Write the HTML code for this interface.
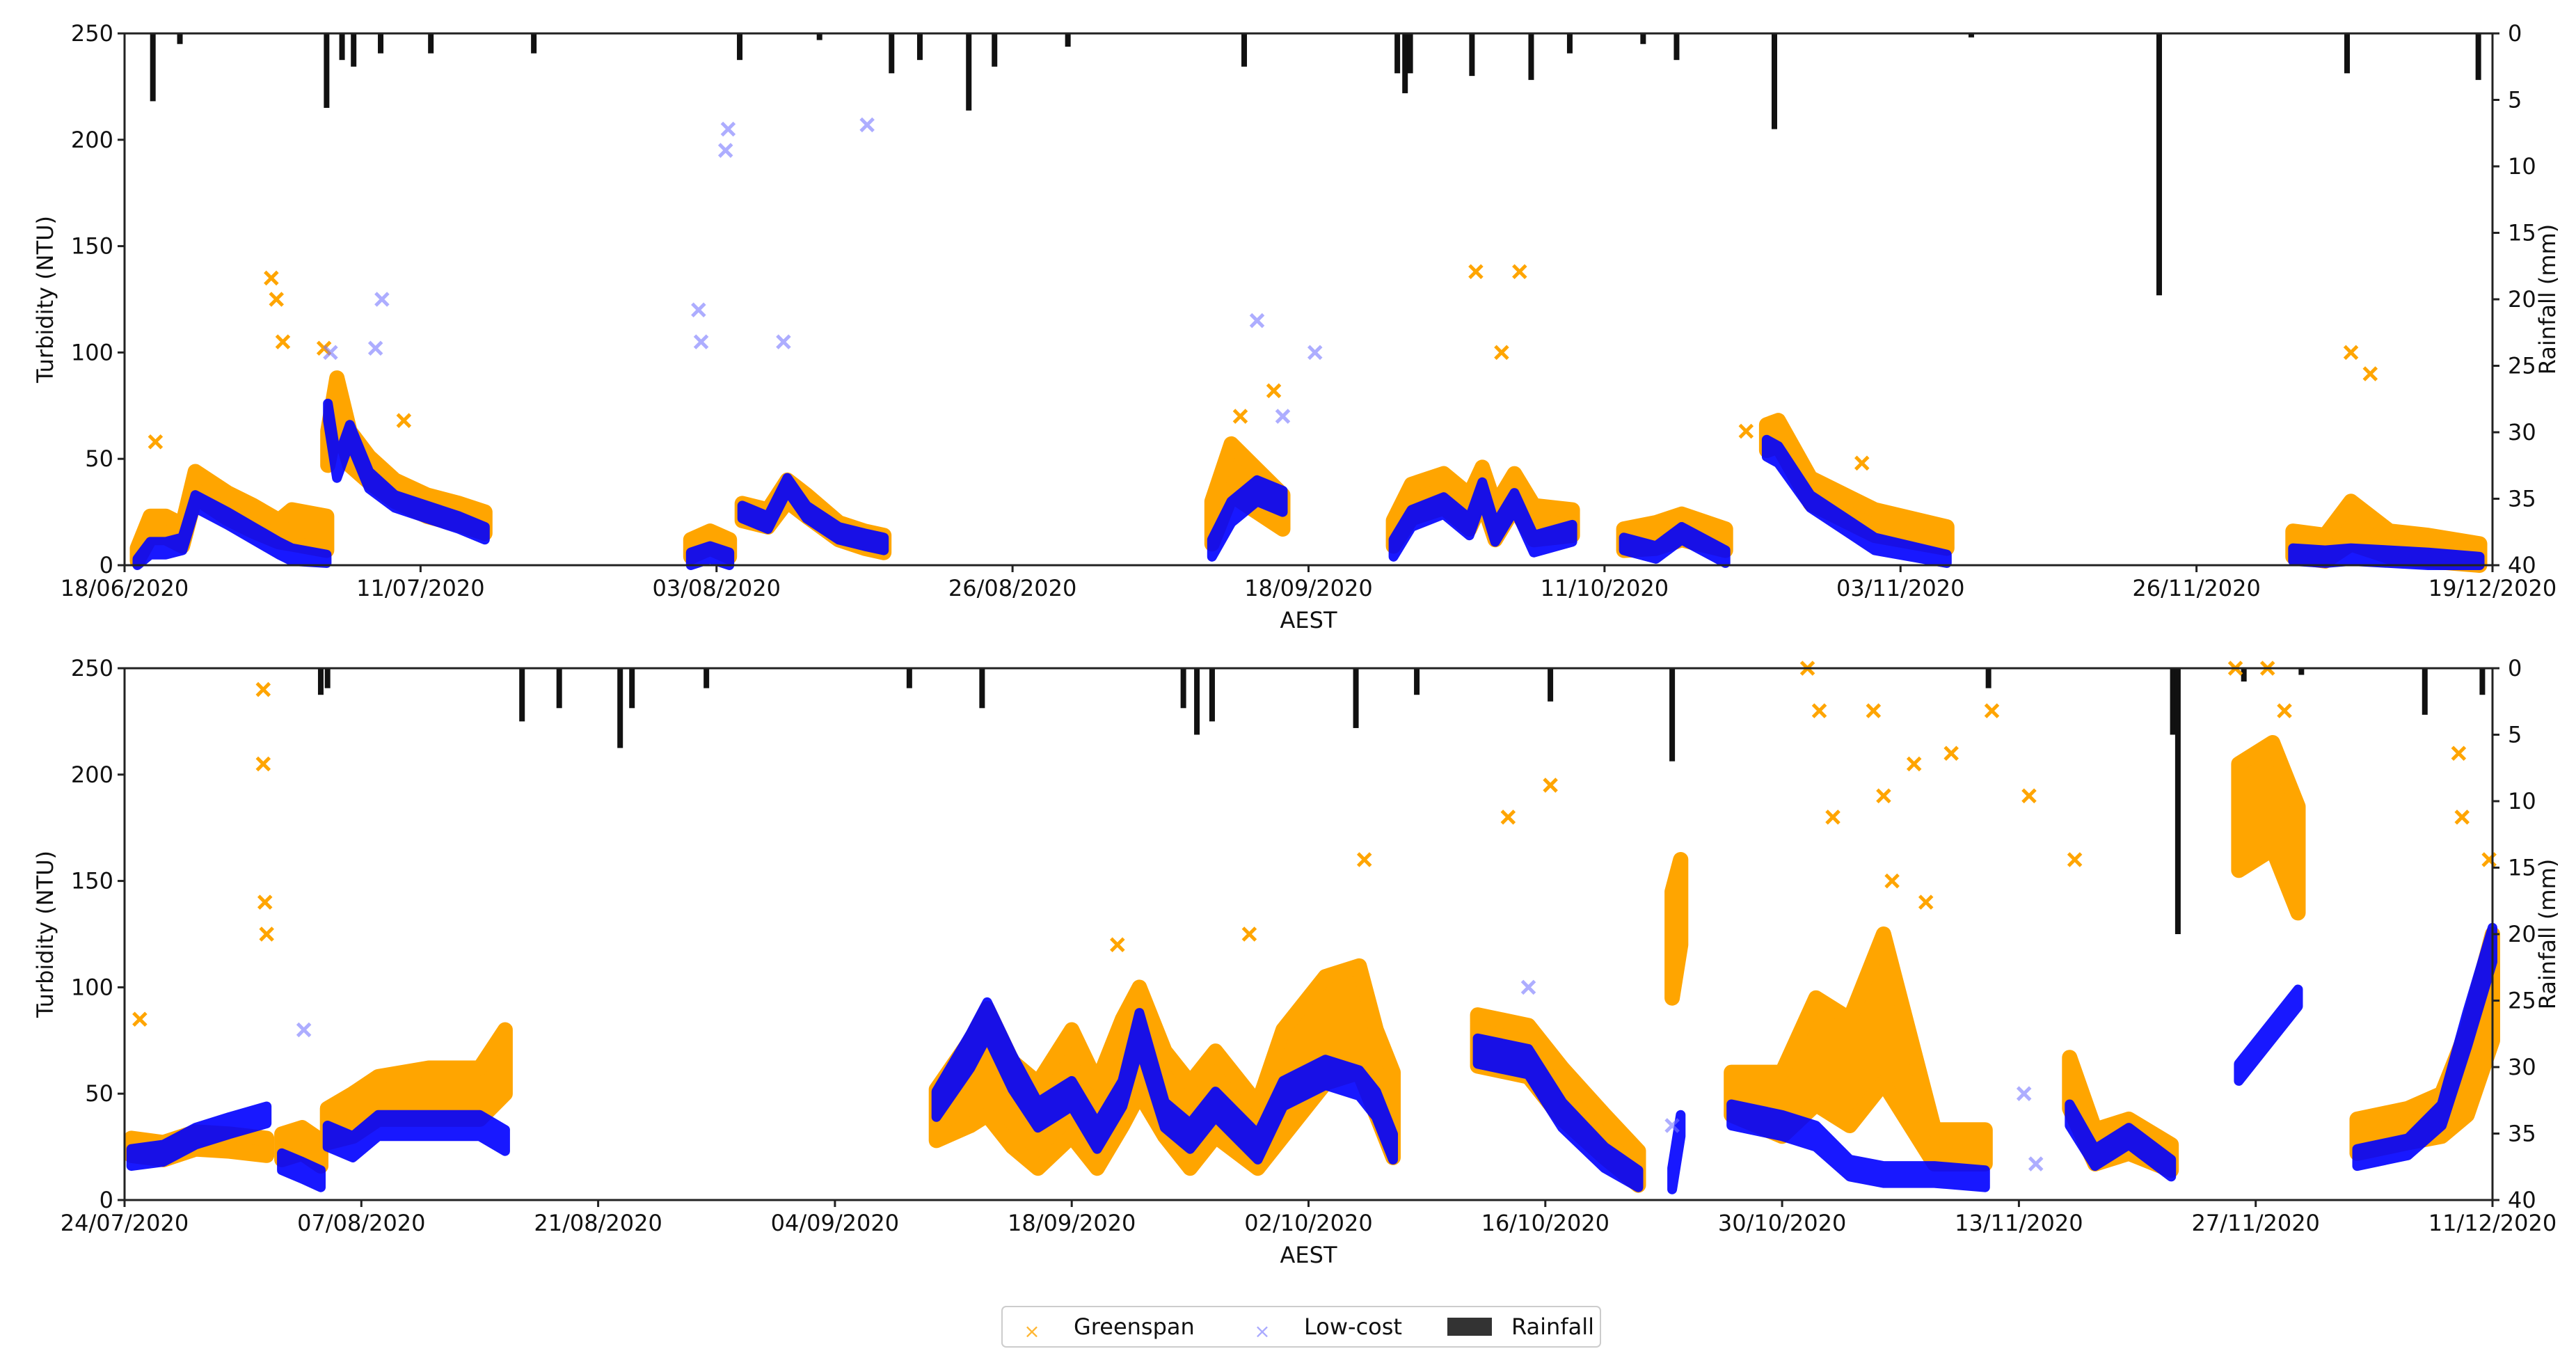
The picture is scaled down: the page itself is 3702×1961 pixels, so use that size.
<!DOCTYPE html>
<html><head><meta charset="utf-8"><style>
html,body{margin:0;padding:0;background:#fff;}
svg{display:block;font-family:"DejaVu Sans","Liberation Sans",sans-serif;}
</style></head><body>
<svg id="chart" width="3702" height="1961" viewBox="0 0 3702 1961" xmlns="http://www.w3.org/2000/svg">
<rect x="0" y="0" width="3702" height="1961" fill="#fff"/>
<g>
<rect x="1440" y="1877" width="860" height="58" rx="6" fill="#fff" stroke="#ccc" stroke-width="2"/>
<text x="1483" y="1922" font-size="28" fill="#ffa500" text-anchor="middle" opacity="0.8">×</text>
<text x="1543" y="1917" font-size="32" fill="#111">Greenspan</text>
<text x="1814" y="1922" font-size="28" fill="#aaaaff" text-anchor="middle">×</text>
<text x="1874" y="1917" font-size="32" fill="#111">Low-cost</text>
<rect x="2080" y="1893" width="64" height="26" fill="#333"/>
<text x="2172" y="1917" font-size="32" fill="#111">Rainfall</text>
</g>
</svg>
<script>
// ---- Top panel data (day offset from 18/06/2020) ----
const topDays = [1,2,3.2,4.5,5.5,8,10,12,13,15.7,null,15.8,16.5,17.5,19,21,23.5,26,28,null,44,45.5,47,null,48,50,51.5,53,55.5,57.5,59,null,84.5,86,88,90,null,98.6,100,102.5,104.5,105.5,106.5,108,109.5,112.5,null,116.5,119,121,124.4,null,127.6,128.5,131,136,141.6,null,168.5,171,173,176,179,183];
const topGreenspan = [5,18,18,14,38,28,22,16,18,15,null,55,78,55,45,35,28,24,20,null,8,12,8,null,25,22,35,28,16,12,10,null,20,45,35,25,null,15,30,35,25,38,20,35,20,20,null,12,14,18,12,null,60,62,35,20,13,null,10,8,20,10,8,5];
const topGSpread = [3,5,5,5,6,6,6,5,8,8,null,8,10,8,6,5,5,5,5,null,4,4,4,null,4,4,5,5,4,4,4,null,10,12,10,8,null,6,8,8,8,8,8,8,8,6,null,5,6,6,5,null,6,6,6,6,5,null,6,6,10,6,6,5];
const topLowcost = [1,8,8,10,30,22,15,8,5,3,null,72,45,62,40,30,25,20,15,null,3,6,3,null,25,20,38,25,15,12,10,null,8,25,35,30,null,8,22,28,18,35,15,30,10,15,null,10,6,15,4,null,55,52,30,10,3,null,5,4,5,4,3,2];
const topLSpread = [2,3,3,3,3,3,3,3,3,2,null,4,4,4,4,3,3,3,3,null,3,3,3,null,3,3,3,3,3,3,3,null,4,5,5,5,null,4,4,4,4,4,4,4,4,4,null,3,3,3,3,null,4,4,3,3,2,null,3,3,3,3,3,2];
const topGOutDays = [2.4,11.4,11.8,12.3,15.5,21.7,86.7,89.3,105,108.4,107,173,174.5,126,135];
const topGOutVals = [58,135,125,105,102,68,70,82,138,138,100,100,90,63,48];
const topLOutDays = [16,20,19.5,44.6,44.8,46.9,46.7,51.2,57.7,88,92.5,90];
const topLOutVals = [100,125,102,120,105,205,195,105,207,115,100,70];
const topRainDays = [2.2,4.3,15.7,16.9,17.8,19.9,23.8,31.8,47.8,54,59.6,61.8,65.6,67.6,73.3,87,98.9,99.5,99.9,104.7,109.3,112.3,118,120.6,128.2,143.5,158.1,172.7,182.9];
const topRainMm = [5.1,0.8,5.6,2,2.5,1.5,1.5,1.5,2,0.5,3,2,5.8,2.5,1,2.5,3,4.5,3,3.2,3.5,1.5,0.8,2,7.2,0.3,19.7,3,3.5];
const topTickLabels = ["18/06/2020","11/07/2020","03/08/2020","26/08/2020","18/09/2020","11/10/2020","03/11/2020","26/11/2020","19/12/2020"];
const topTickDays = [0,23,46,69,92,115,138,161,184];
// ---- Bottom panel data (day offset from 24/07/2020) ----
const botDays = [0.4,2.3,4.2,6.2,8.4,null,9.3,10.5,11.6,null,12,13.5,15,18,21,22.5,null,48,50,51,52.5,54,56,57.5,59,60,61.5,63,64.5,67,68.5,71,73,74,75,null,80,83,85,87.5,89.5,null,91.5,92,null,95,98,100,102,104,107,110,null,115,116.5,118.5,121,null,125,127,128.5,null,132,135,137,138.5,140];
const botGreenspan = [25,23,28,27,25,null,25,28,22,null,35,40,48,50,50,65,null,40,55,65,45,35,55,35,60,75,50,35,50,30,55,80,85,60,40,null,75,70,50,30,15,null,120,140,null,50,45,70,60,90,25,25,null,55,25,30,20,null,180,190,160,null,30,35,40,60,100];
const botGSpread = [4,4,4,4,4,null,6,6,6,null,8,10,10,12,12,15,null,12,20,25,20,20,25,20,25,25,20,20,20,15,25,25,25,20,20,null,12,12,12,10,8,null,25,20,null,10,15,25,25,35,8,8,null,12,8,8,6,null,25,25,25,null,8,8,10,20,25];
const botLowcost = [20,22,30,35,40,null,18,14,10,null,30,25,35,35,35,28,null,45,70,85,60,40,50,30,50,80,40,30,45,25,50,60,55,45,25,null,70,65,40,20,10,null,10,35,null,40,35,30,15,12,12,10,null,40,20,30,15,null,60,80,95,null,20,25,40,80,120];
const botLSpread = [4,4,4,4,4,null,4,4,4,null,5,5,5,5,5,5,null,6,8,8,8,6,6,6,6,8,6,6,6,6,6,6,6,6,6,null,6,6,6,5,4,null,5,5,null,5,5,5,4,4,4,4,null,5,4,4,4,null,4,4,4,null,4,4,5,8,8];
const botGOutDays = [8.2,8.2,8.3,8.4,99.5,100.2,103.4,104,104.5,105.8,108,110.4,112.6,115.3,124.8,125.3,126.7,127.7,138,138.2,139.8,84.3,81.8,66.5,73.3,0.9,58.7,101,106.5];
const botGOutVals = [240,205,140,125,250,230,230,190,150,205,210,230,190,160,250,200,250,230,210,180,160,195,180,125,160,85,120,180,140];
const botLOutDays = [10.6,91.5,112.3,113,83];
const botLOutVals = [80,35,50,17,100];
const botRainDays = [11.6,12,23.5,25.7,29.3,30,34.4,46.4,50.7,62.6,63.4,64.3,72.8,76.4,84.3,91.5,110.2,121.1,121.4,125.3,128.7,136,139.4];
const botRainMm = [2,1.5,4,3,6,3,1.5,1.5,3,3,5,4,4.5,2,2.5,7,1.5,5,20,1,0.5,3.5,2];
const botTickLabels = ["24/07/2020","07/08/2020","21/08/2020","04/09/2020","18/09/2020","02/10/2020","16/10/2020","30/10/2020","13/11/2020","27/11/2020","11/12/2020"];
const botTickDays = [0,14,28,42,56,70,84,98,112,126,140];
const yTicks = [0,50,100,150,200,250];
const rainTicks = [0,5,10,15,20,25,30,35,40];

const NS = "http://www.w3.org/2000/svg";
const svg = document.getElementById('chart');
const legend = svg.lastElementChild;
function mk(tag, attrs, parent){const e=document.createElementNS(NS,tag);for(const k in attrs)e.setAttribute(k,attrs[k]);(parent||svg).insertBefore(e, parent?null:legend);return e;}

function drawPanel(p){
  const L=179,R=3582,T=p.top,B=p.bottom;
  const xs=d=>L+(R-L)*d/p.span;
  const ys=v=>Math.min(B,Math.max(T,B-(B-T)*v/250));
  const rs=mm=>T+(B-T)*mm/40;
  const g=mk('g',{});
  
  
  const rg=mk('g',{},g);
  
  
  p.rainDays.forEach((d,i)=>{
    const r=mk('rect',{x:xs(d)-4,y:T,width:8,height:rs(p.rainMm[i])-T,fill:'#111'},rg);
    
    
  });
  function band(days,vals,spread,color,w,op,name){
    let seg=[];const segs=[];
    days.forEach((d,i)=>{if(d===null||vals[i]===null){if(seg.length)segs.push(seg);seg=[];}else seg.push([d,vals[i],spread[i]]);});
    if(seg.length)segs.push(seg);
    segs.forEach(s=>{
      const up=s.map(q=>xs(q[0]).toFixed(1)+','+ys(q[1]+q[2]).toFixed(1));
      const dn=s.slice().reverse().map(q=>xs(q[0]).toFixed(1)+','+ys(q[1]-q[2]).toFixed(1));
      const pg=mk('polygon',{points:up.concat(dn).join(' '),fill:color,stroke:color,'stroke-width':w,'stroke-linejoin':'round',opacity:op},g);
      
      
    });
  }
  function outl(days,vals,color,op,name){
    days.forEach((d,i)=>{
      const x=xs(d),y=ys(vals[i]);
      const m=mk('path',{d:`M${x-9},${y-9}L${x+9},${y+9}M${x-9},${y+9}L${x+9},${y-9}`,stroke:color,'stroke-width':5,opacity:op},g);
      
      
    });
  }
  band(p.days,p.g,p.gs,'#ffa500',22,1,'greenspan-series');
  outl(p.gOutD,p.gOutV,'#ffa500',1,'greenspan-point');
  band(p.days,p.l,p.ls,'#0000ff',14,0.9,'lowcost-series');
  outl(p.lOutD,p.lOutV,'#7777ff',0.6,'lowcost-point');
  const fr=mk('rect',{x:L,y:T,width:R-L,height:B-T,fill:'none',stroke:'#222','stroke-width':3},g);
  
  
  yTicks.forEach(v=>{
    mk('line',{x1:L-10,x2:L,y1:ys(v),y2:ys(v),stroke:'#222','stroke-width':3},g);
    const t=mk('text',{x:L-16,y:ys(v)+11,'font-size':32,'text-anchor':'end',fill:'#111'},g);
    t.textContent=v;
    
    
  });
  rainTicks.forEach(v=>{
    mk('line',{x1:R,x2:R+10,y1:rs(v),y2:rs(v),stroke:'#222','stroke-width':3},g);
    const t=mk('text',{x:R+22,y:rs(v)+11,'font-size':32,fill:'#111'},g);
    t.textContent=v;
    
    
  });
  p.tickDays.forEach((d,i)=>{
    mk('line',{x1:xs(d),x2:xs(d),y1:B,y2:B+10,stroke:'#222','stroke-width':3},g);
    const t=mk('text',{x:xs(d),y:B+44,'font-size':32,'text-anchor':'middle',fill:'#111'},g);
    t.textContent=p.ticks[i];
    
    
  });
  const xt=mk('text',{x:(L+R)/2,y:B+90,'font-size':32,'text-anchor':'middle',fill:'#111'},g);
  xt.textContent='AEST';
  
  
  const yl=mk('text',{x:0,y:0,'font-size':32,'text-anchor':'middle',fill:'#111',transform:`translate(76,${(T+B)/2}) rotate(-90)`},g);
  yl.textContent='Turbidity (NTU)';
  
  
  const yr=mk('text',{x:0,y:0,'font-size':32,'text-anchor':'middle',fill:'#111',transform:`translate(3672,${(T+B)/2}) rotate(-90)`},g);
  yr.textContent='Rainfall (mm)';
  
  
}
drawPanel({name:'top-panel',top:48,bottom:812,span:184,days:topDays,g:topGreenspan,gs:topGSpread,l:topLowcost,ls:topLSpread,gOutD:topGOutDays,gOutV:topGOutVals,lOutD:topLOutDays,lOutV:topLOutVals,rainDays:topRainDays,rainMm:topRainMm,ticks:topTickLabels,tickDays:topTickDays});
drawPanel({name:'bottom-panel',top:960,bottom:1724,span:140,days:botDays,g:botGreenspan,gs:botGSpread,l:botLowcost,ls:botLSpread,gOutD:botGOutDays,gOutV:botGOutVals,lOutD:botLOutDays,lOutV:botLOutVals,rainDays:botRainDays,rainMm:botRainMm,ticks:botTickLabels,tickDays:botTickDays});
</script>
</body></html>
